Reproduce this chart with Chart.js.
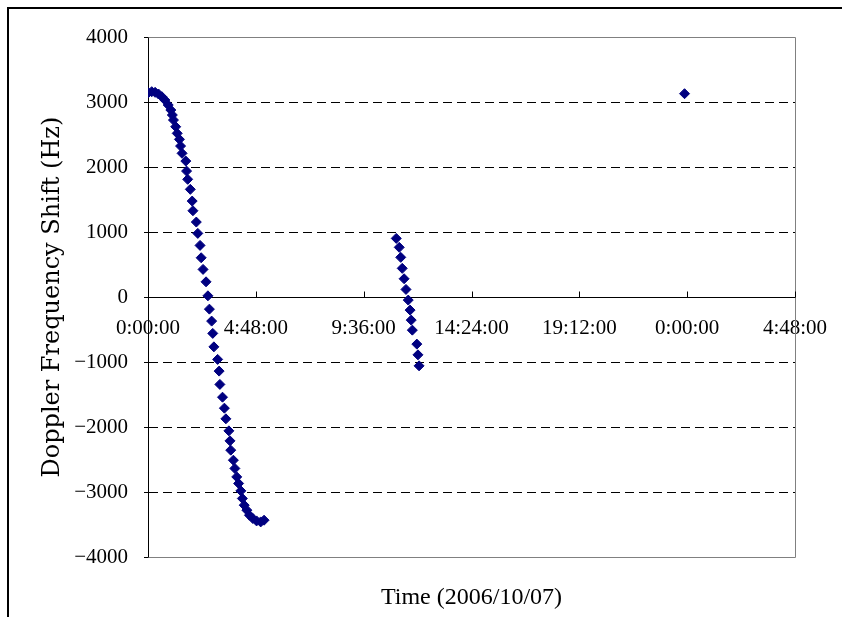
<!DOCTYPE html>
<html>
<head>
<meta charset="utf-8">
<script src="https://cdn.jsdelivr.net/npm/chart.js@4"></script>
<style>
  html, body { margin: 0; padding: 0; background: #fff; }
  #wrap { position: relative; width: 842px; height: 617px; overflow: hidden; }
  #frame { position: absolute; left: 7px; top: 7px; width: 900px; height: 700px;
           border-left: 2px solid #000; border-top: 2px solid #000; pointer-events: none; }
  canvas { position: absolute; left: 0; top: 0; }
</style>
</head>
<body>
<div id="wrap">
  <canvas id="doppler" width="842" height="617"></canvas>
  <div id="frame"></div>
</div>
<script>
// ---- Data (time in minutes after 0:00:00, shift in Hz) ----
const pass1Minutes = [1, 10, 19, 28, 37, 45, 54, 61, 65, 68, 74, 78, 84, 87, 91, 101, 103, 106,
  113, 118, 120, 129, 133, 139, 142, 147, 155, 160, 164, 170, 173, 176, 186, 190, 192, 199,
  204, 208, 216, 219, 221, 228, 232, 237, 242, 248, 252, 257, 264, 271, 280, 290, 301, 310];
const pass1Shift = [3143, 3159, 3149, 3123, 3082, 3031, 2954, 2877, 2800, 2723, 2620, 2518,
  2426, 2323, 2211, 2092, 1938, 1811, 1657, 1477, 1328, 1154, 980, 795, 605, 426, 235, 20,
  -185, -369, -558, -765, -958, -1138, -1343, -1539, -1708, -1872, -2057, -2211, -2354, -2508,
  -2635, -2765, -2866, -2980, -3097, -3200, -3277, -3354, -3405, -3442, -3457, -3431];

const pass2Minutes = [663, 671, 675, 679, 684, 689, 695, 700, 703, 706, 718, 721, 724];
const pass2Shift   = [903, 765, 611, 442, 282, 118, -46, -200, -354, -508, -723, -888, -1057];

const pass3Minutes = [1433];
const pass3Shift   = [3128];

const xMin = 0, xMax = 1728, xStep = 288;       // 0:00:00 .. 4:48:00 next day
const yMin = -4000, yMax = 4000, yStep = 1000;

const points = [];
[[pass1Minutes, pass1Shift], [pass2Minutes, pass2Shift], [pass3Minutes, pass3Shift]]
  .forEach(([t, f]) => t.forEach((m, i) => points.push({ x: m, y: f[i] })));

function fmtTime(v) {
  const h = Math.floor(v / 60) % 24;
  const m = Math.round(v % 60);
  return h + ':' + String(m).padStart(2, '0') + ':00';
}

// tick marks on the zero axis point up, plot frame is grey
const axisMarks = {
  id: 'axisMarks',
  beforeDatasetsDraw(chart) {
    const { ctx, chartArea: a, scales: { x, y } } = chart;
    const y0 = Math.round(y.getPixelForValue(0)) + 0.5;
    ctx.save();
    ctx.lineWidth = 1;
    ctx.strokeStyle = '#808080';
    ctx.beginPath();
    ctx.moveTo(Math.round(a.left) + 0.5, Math.round(a.top) + 0.5);
    ctx.lineTo(Math.round(a.right) + 0.5, Math.round(a.top) + 0.5);
    ctx.lineTo(Math.round(a.right) + 0.5, Math.round(a.bottom) + 0.5);
    ctx.lineTo(Math.round(a.left) + 0.5, Math.round(a.bottom) + 0.5);
    ctx.stroke();
    ctx.strokeStyle = '#000';
    ctx.beginPath();
    x.ticks.forEach(t => {
      const px = Math.round(x.getPixelForValue(t.value)) + 0.5;
      ctx.moveTo(px, y0);
      ctx.lineTo(px, y0 - 6);
    });
    ctx.stroke();
    ctx.restore();
  }
};

Chart.defaults.color = '#000';

new Chart(document.getElementById('doppler'), {
  type: 'scatter',
  data: {
    datasets: [{
      label: 'Doppler shift',
      data: points,
      pointStyle: 'rectRot',
      pointRadius: 5,
      pointBackgroundColor: '#000080',
      pointBorderColor: '#000080',
      pointBorderWidth: 1
    }]
  },
  options: {
    responsive: false,
    animation: false,
    layout: { padding: { top: 37, right: 47, left: 0, bottom: 0 } },
    plugins: {
      legend: { display: false },
      tooltip: { enabled: false },
      title: {
        display: true,
        position: 'bottom',
        fullSize: false,
        text: 'Time (2006/10/07)',
        color: '#000',
        font: { family: '"Liberation Serif", serif', size: 24, weight: 'normal', lineHeight: 1.2 },
        padding: { top: 26, bottom: 5 }
      }
    },
    scales: {
      x: {
        type: 'linear',
        position: { y: 0 },
        min: xMin,
        max: xMax,
        afterFit: s => { s.height = 0; s.paddingLeft = 0; s.paddingRight = 0; },
        grid: { display: false, drawTicks: false },
        border: { display: true, color: '#000', width: 1 },
        ticks: {
          stepSize: xStep,
          autoSkip: false,
          maxRotation: 0,
          padding: 19,
          color: '#000',
          font: { family: '"Liberation Serif", serif', size: 21 },
          callback: v => fmtTime(v)
        }
      },
      y: {
        min: yMin,
        max: yMax,
        afterFit: s => { s.width = 148; },
        grid: {
          color: c => (c.tick && (c.tick.value === 0 || Math.abs(c.tick.value) === 4000)) ? 'rgba(0,0,0,0)' : '#000',
          lineWidth: 1,
          drawTicks: true,
          tickLength: 4,
          tickColor: '#000'
        },
        border: {
          display: true, color: '#000', width: 1,
          dash: c => (c.tick ? [9, 5] : [])
        },
        ticks: {
          stepSize: yStep,
          padding: 16,
          color: '#000',
          font: { family: '"Liberation Serif", serif', size: 21 },
          callback: v => (v < 0 ? '\u2212' + Math.abs(v) : String(v))
        },
        title: {
          display: true,
          text: 'Doppler Frequency Shift (Hz)',
          color: '#000',
          font: { family: '"DejaVu Serif", serif', size: 24 },
          padding: { top: 38, bottom: 0 }
        }
      }
    }
  },
  plugins: [axisMarks]
});
</script>
</body>
</html>
